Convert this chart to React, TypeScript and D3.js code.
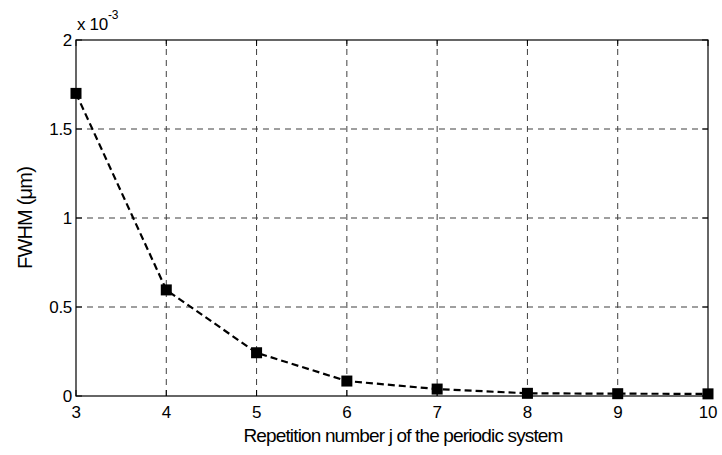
import React from "react";
import * as d3 from "d3";

// FWHM (in units of 1e-3 µm) against repetition number j
const repetitions = [3, 4, 5, 6, 7, 8, 9, 10];
const fwhm = [1.7, 0.596, 0.243, 0.084, 0.039, 0.015, 0.013, 0.012];
const xTicks = [3, 4, 5, 6, 7, 8, 9, 10];
const yTicks = [0, 0.5, 1, 1.5, 2];

const W = 722;
const H = 455;
const M = { left: 76, right: 14, top: 40, bottom: 59 };
const FONT = "Arial, 'Liberation Sans', sans-serif";

export default function App() {
  const x = d3.scaleLinear().domain([3, 10]).range([M.left, W - M.right]);
  const y = d3.scaleLinear().domain([0, 2]).range([H - M.bottom, M.top]);
  const line = d3
    .line<number>()
    .x((_, i) => x(repetitions[i]))
    .y((d) => y(d));
  const pts = fwhm.map((v, i) => [repetitions[i], v] as [number, number]);

  return (
    <svg
      width={W}
      height={H}
      style={{ position: "absolute", left: 0, top: 0, background: "#fff" }}
      fontFamily={FONT}
    >
      {/* grid */}
      <g stroke="#000" strokeWidth={1} strokeDasharray="6,5" opacity={0.75}>
        {xTicks.slice(1, -1).map((t) => (
          <line key={"gx" + t} x1={x(t)} x2={x(t)} y1={y(0)} y2={y(2)} />
        ))}
        {yTicks.slice(1, -1).map((t) => (
          <line key={"gy" + t} x1={x(3)} x2={x(10)} y1={y(t)} y2={y(t)} />
        ))}
      </g>
      {/* frame */}
      <rect
        x={x(3)}
        y={y(2)}
        width={x(10) - x(3)}
        height={y(0) - y(2)}
        fill="none"
        stroke="#000"
        strokeWidth={1.2}
      />
      {/* ticks */}
      <g stroke="#000" strokeWidth={1}>
        {xTicks.map((t) => (
          <g key={"tx" + t}>
            <line x1={x(t)} x2={x(t)} y1={y(0)} y2={y(0) - 6} />
            <line x1={x(t)} x2={x(t)} y1={y(2)} y2={y(2) + 6} />
          </g>
        ))}
        {yTicks.map((t) => (
          <g key={"ty" + t}>
            <line x1={x(3)} x2={x(3) + 6} y1={y(t)} y2={y(t)} />
            <line x1={x(10)} x2={x(10) - 6} y1={y(t)} y2={y(t)} />
          </g>
        ))}
      </g>
      {/* tick labels */}
      <g fontSize={17} fill="#000" letterSpacing={-0.3}>
        {xTicks.map((t) => (
          <text key={"lx" + t} x={x(t)} y={y(0) + 22} textAnchor="middle">
            {t}
          </text>
        ))}
        {yTicks.map((t) => (
          <text
            key={"ly" + t}
            x={x(3) - 4}
            y={y(t) + 6}
            textAnchor="end"
          >
            {t}
          </text>
        ))}
      </g>
      {/* exponent */}
      <text x={x(3) + 1} y={y(2) - 10} fontSize={17} fill="#000" letterSpacing={-0.3}>
        x 10
        <tspan fontSize={12} dy={-11}>
          -3
        </tspan>
      </text>
      {/* series */}
      <path
        d={line(fwhm) ?? ""}
        fill="none"
        stroke="#000"
        strokeWidth={2.2}
        strokeDasharray="7,4"
      />
      {pts.map(([r, v]) => (
        <rect
          key={"m" + r}
          x={x(r) - 5.5}
          y={y(v) - 5.5}
          width={11}
          height={11}
          fill="#000"
        />
      ))}
      {/* axis titles */}
      <text
        x={(x(3) + x(10)) / 2 + 11}
        y={442}
        textAnchor="middle"
        fontSize={19}
        letterSpacing={-0.85}
        fill="#000"
      >
        Repetition number j of the periodic system
      </text>
      <text
        transform={`translate(32,${(y(0) + y(2)) / 2}) rotate(-90)`}
        textAnchor="middle"
        fontSize={20}
        letterSpacing={-0.8}
        fill="#000"
      >
        FWHM (μm)
      </text>
    </svg>
  );
}
